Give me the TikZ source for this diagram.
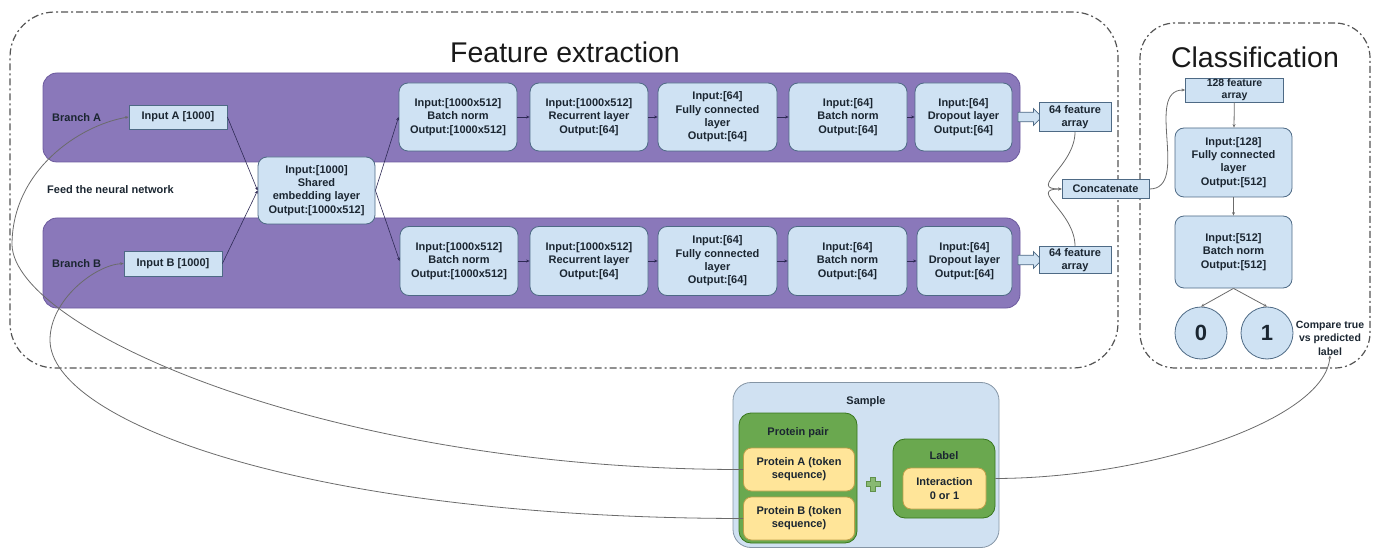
\documentclass[tikz,border=0pt]{standalone}
\usepackage{fontspec}
\setmainfont{Liberation Sans}
\usetikzlibrary{arrows.meta,shapes.arrows,shapes.geometric}
\definecolor{lb}{HTML}{CFE2F3}
\definecolor{bd}{HTML}{4E6A85}
\definecolor{tx}{HTML}{1B2631}
\definecolor{pf}{HTML}{8A78BA}
\definecolor{pbd}{HTML}{6C5A9E}
\definecolor{gf}{HTML}{6AA84F}
\definecolor{gd}{HTML}{38761D}
\definecolor{yf}{HTML}{FFE599}
\definecolor{yd}{HTML}{BF9F4A}
\definecolor{sf}{HTML}{D0E1F2}
\definecolor{sd}{HTML}{8595A5}
\definecolor{dg}{HTML}{555555}
\definecolor{cg}{HTML}{6B6B6B}
\definecolor{ar}{HTML}{2E2A55}
\tikzset{
  txt/.style={font=\bfseries\fontsize{11}{13.3}\selectfont, text=tx, align=center},
  sq/.style={txt, rectangle, draw=bd, fill=lb, line width=0.8pt, inner sep=1pt},
  rb/.style={sq, rounded corners=9pt},
  band/.style={rectangle, draw=pbd, fill=pf, rounded corners=14pt, line width=0.8pt},
  ddbox/.style={rectangle, draw=dg, line width=1.2pt, dash pattern=on 7pt off 3pt on 2pt off 3pt},
  title/.style={font=\fontsize{28.5}{30}\selectfont, text=black!90, inner sep=0pt},
  rowarr/.style={draw=ar, line width=0.6pt, -{Stealth[length=3.5pt,width=3pt]}},
  conn/.style={draw=cg, line width=0.8pt, -{Stealth[length=3.5pt,width=3pt]}},
  hol/.style={single arrow, draw=bd, fill=lb, line width=0.7pt, inner sep=3.5pt,
    minimum height=24pt, minimum width=17pt, single arrow head extend=3pt},
  grn/.style={rectangle, draw=gd, fill=gf, rounded corners=12pt, line width=0.8pt},
  yel/.style={txt, rectangle, draw=yd, fill=yf, rounded corners=8pt, line width=0.8pt, inner sep=1pt},
  circ/.style={circle, draw=bd, fill=lb, line width=0.8pt, minimum size=52pt, inner sep=0pt,
    font=\bfseries\fontsize{22}{24}\selectfont, text=tx},
}
\begin{document}
\begin{tikzpicture}[x=1pt,y=-1pt]
\useasboundingbox (0,0) rectangle (1379,548);
% dashed groups
\node[ddbox, rounded corners=45pt, minimum width=1108pt, minimum height=356pt] (fe) at (564,190) {};
\node[ddbox, rounded corners=35pt, minimum width=230pt, minimum height=345pt] (cl) at (1255,195.5) {};
\node[title, anchor=base] (fet) at (565,63) {Feature extraction};
\node[title, anchor=base] (clt) at (1255,68) {Classification};
% bands
\node[band, minimum width=977pt, minimum height=89pt] (bandA) at (531.5,117.5) {};
\node[band, minimum width=977pt, minimum height=90pt] (bandB) at (531.5,263) {};
\node[txt, anchor=west, inner sep=0pt] (brA) at (52,118) {Branch A};
\node[txt, anchor=west, inner sep=0pt] (brB) at (52,264) {Branch B};
\node[txt, anchor=west, inner sep=0pt] (feed) at (47,190) {Feed the neural network};
% sample
\node[rectangle, draw=sd, fill=sf, rounded corners=18pt, line width=0.8pt, minimum width=266pt, minimum height=165pt] (smp) at (866,465) {};
\node[txt] (smpt) at (866,402) {Sample};
\node[grn, minimum width=118pt, minimum height=130pt] (pp) at (798,478) {};
\node[txt] (ppt) at (798,433) {Protein pair};
\node[yel, minimum width=111pt, minimum height=43pt] (pa) at (799,469.5) {Protein A (token\\sequence)};
\node[yel, minimum width=111pt, minimum height=43pt] (pb) at (799,518.5) {Protein B (token\\sequence)};
\node[grn, minimum width=102pt, minimum height=79pt] (lab) at (944,478.5) {};
\node[txt] (labt) at (944,456) {Label};
\node[yel, minimum width=83pt, minimum height=41pt] (inter) at (944.5,488.5) {Interaction\\0 or 1};
\draw[fill=gf!80!white, draw=gd!80!white, line width=0.8pt, shift={(873,484)}]
  (-2.5,-7) -- (2.5,-7) -- (2.5,-2.5) -- (7,-2.5) -- (7,2.5) -- (2.5,2.5) -- (2.5,7)
  -- (-2.5,7) -- (-2.5,2.5) -- (-7,2.5) -- (-7,-2.5) -- (-2.5,-2.5) -- cycle;
% inputs
\node[sq, minimum width=98pt, minimum height=24pt] (ia) at (178,117) {Input A [1000]};
\node[sq, minimum width=98pt, minimum height=25pt] (ib) at (173,263.5) {Input B [1000]};
\node[rb, minimum width=117pt, minimum height=67pt] (sh) at (316.5,190.5) {Input:[1000]\\Shared\\embedding layer\\Output:[1000x512]};
% top row
\node[rb, minimum width=118pt, minimum height=68pt] (t1) at (458,117) {Input:[1000x512]\\Batch norm\\Output:[1000x512]};
\node[rb, minimum width=118pt, minimum height=68pt] (t2) at (589,117) {Input:[1000x512]\\Recurrent layer\\Output:[64]};
\node[rb, minimum width=119pt, minimum height=68pt] (t3) at (717.5,117) {Input:[64]\\Fully connected\\layer\\Output:[64]};
\node[rb, minimum width=118pt, minimum height=68pt] (t4) at (848,117) {Input:[64]\\Batch norm\\Output:[64]};
\node[rb, minimum width=97pt, minimum height=68pt] (t5) at (963.5,117) {Input:[64]\\Dropout layer\\Output:[64]};
% bottom row
\node[rb, minimum width=118pt, minimum height=69pt] (b1) at (459,261) {Input:[1000x512]\\Batch norm\\Output:[1000x512]};
\node[rb, minimum width=118pt, minimum height=69pt] (b2) at (589,261) {Input:[1000x512]\\Recurrent layer\\Output:[64]};
\node[rb, minimum width=119pt, minimum height=69pt] (b3) at (717.5,261) {Input:[64]\\Fully connected\\layer\\Output:[64]};
\node[rb, minimum width=119pt, minimum height=69pt] (b4) at (847.5,261) {Input:[64]\\Batch norm\\Output:[64]};
\node[rb, minimum width=95pt, minimum height=69pt] (b5) at (964.5,261) {Input:[64]\\Dropout layer\\Output:[64]};
% hollow arrows
\node[hol] (haA) at (1027.5,117) {};
\node[hol] (haB) at (1027.5,260) {};
% feature arrays
\node[sq, minimum width=72pt, minimum height=29pt, font=\bfseries\fontsize{11}{12.5}\selectfont] (f1) at (1075,117) {64 feature\\array};
\node[sq, minimum width=72pt, minimum height=27pt, font=\bfseries\fontsize{11}{12.5}\selectfont] (f2) at (1075,260) {64 feature\\array};
\node[sq, minimum width=87pt, minimum height=19pt] (cat) at (1105.5,189) {Concatenate};
\node[sq, minimum width=98pt, minimum height=24pt, inner sep=0.3pt, font=\bfseries\fontsize{10.5}{11.5}\selectfont] (c128) at (1234.5,90) {128 feature\\array};
\node[rb, minimum width=117pt, minimum height=69pt] (fc) at (1233.5,162.5) {Input:[128]\\Fully connected\\layer\\Output:[512]};
\node[rb, minimum width=117pt, minimum height=72pt] (bn) at (1233.5,252) {Input:[512]\\Batch norm\\Output:[512]};
\node[circ] (c0) at (1201,333) {0};
\node[circ] (c1) at (1267,333) {1};
\node[txt, font=\bfseries\fontsize{10.5}{13.5}\selectfont, inner sep=0pt] (cmp) at (1330,338) {Compare true\\vs predicted\\label};
% connectors
\draw[rowarr] (ia.east) -- (sh.west);
\draw[rowarr] (ib.east) -- (sh.west);
\draw[rowarr] (sh.east) -- (t1.west);
\draw[rowarr] (sh.east) -- (b1.west);
\draw[rowarr] (t1) -- (t2);
\draw[rowarr] (t2) -- (t3);
\draw[rowarr] (t3) -- (t4);
\draw[rowarr] (t4) -- (t5);
\draw[rowarr] (b1) -- (b2);
\draw[rowarr] (b2) -- (b3);
\draw[rowarr] (b3) -- (b4);
\draw[rowarr] (b4) -- (b5);
\draw[conn] (f1.south) to[out=-90,in=180,looseness=1.5] (cat.west);
\draw[conn] (f2.north) to[out=90,in=180,looseness=1.5] (cat.west);
\draw[conn] (cat.east) to[out=0,in=180] (c128.west);
\draw[conn] (c128) -- (fc);
\draw[conn] (fc) -- (bn);
\draw[conn] (bn.south) -- (c0.north);
\draw[conn] (bn.south) -- (c1.north);
\coordinate (ca) at (12,245);
\coordinate (cb) at (50,340);
\draw[conn] (pa.west) .. controls (330,470) and (15,330) .. (ca) .. controls (12,170) and (80,125) .. (ia.west);
\draw[conn] (pb.west) .. controls (300,518) and (50,420) .. (cb) .. controls (50,300) and (95,265) .. (ib.west);
\draw[conn] (lab.east) .. controls (1150,478) and (1325,420) .. (cmp.south);
\end{tikzpicture}
\end{document}
